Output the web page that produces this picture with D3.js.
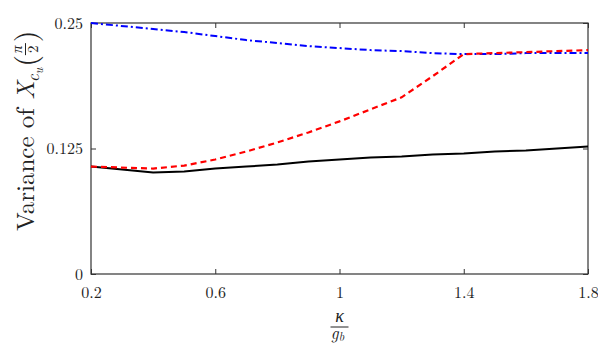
<!DOCTYPE html>
<html>
<head>
  <script src="https://d3js.org/d3.v7.min.js"></script>
  <style>
    body { margin: 0; background: #fff; }
  </style>
</head>
<body>
  <svg id="chart" width="598" height="344"></svg>
  <script>
    // data
    const kappa = [0.2, 0.4, 0.5, 0.6, 0.7, 0.8, 0.9, 1.0, 1.1, 1.2, 1.3, 1.4, 1.5, 1.6, 1.7, 1.8];
    const solidBlack = [0.107, 0.101, 0.102, 0.105, 0.107, 0.109, 0.112, 0.114, 0.116, 0.117, 0.119, 0.120, 0.122, 0.123, 0.125, 0.127];
    const dashedRed = [0.107, 0.105, 0.108, 0.114, 0.122, 0.131, 0.141, 0.152, 0.164, 0.176, 0.197, 0.219, 0.220, 0.221, 0.222, 0.223];
    const dashDotBlue = [0.250, 0.244, 0.241, 0.237, 0.233, 0.230, 0.227, 0.225, 0.223, 0.222, 0.220, 0.219, 0.219, 0.220, 0.220, 0.220];
    const xTicks = [0.2, 0.6, 1, 1.4, 1.8];
    const yTicks = [0, 0.125, 0.25];

    const FONT = '"Latin Modern Roman", "CMU Serif", "Liberation Serif", serif';
    const INK = "#222";

    const svg = d3.select("#chart");
    const pLeft = 91, pRight = 588, pTop = 23, pBottom = 274;

    const x = d3.scaleLinear().domain([0.2, 1.8]).range([pLeft, pRight]);
    const y = d3.scaleLinear().domain([0, 0.25]).range([pBottom, pTop]);

    // frame
    svg.append("rect")
      .attr("x", pLeft).attr("y", pTop)
      .attr("width", pRight - pLeft).attr("height", pBottom - pTop)
      .attr("fill", "none").attr("stroke", "#333").attr("stroke-width", 1.2);

    const styleAxis = g => {
      g.select(".domain").remove();
      g.selectAll("line").attr("stroke", "#333");
      g.selectAll("text").attr("font-size", 16).style("font-family", FONT).attr("fill", INK);
    };

    // ticks point inward on all four sides
    const tickLen = 5;
    svg.append("g").attr("transform", `translate(0,${pBottom})`)
      .call(d3.axisBottom(x).tickValues(xTicks).tickSize(-tickLen).tickPadding(13)
        .tickFormat(d => d === 1 ? "1" : d3.format(".1f")(d)))
      .call(styleAxis);
    svg.append("g").attr("transform", `translate(0,${pTop})`)
      .call(d3.axisTop(x).tickValues(xTicks).tickSize(-tickLen).tickFormat(""))
      .call(styleAxis);
    svg.append("g").attr("transform", `translate(${pLeft},0)`)
      .call(d3.axisLeft(y).tickValues(yTicks).tickSize(-tickLen).tickPadding(8)
        .tickFormat(d => String(d)))
      .call(styleAxis);
    svg.append("g").attr("transform", `translate(${pRight},0)`)
      .call(d3.axisRight(y).tickValues(yTicks).tickSize(-tickLen).tickFormat(""))
      .call(styleAxis);

    // lines
    const line = vals => d3.line().x((d, i) => x(kappa[i])).y(d => y(d))(vals);
    svg.append("path").attr("d", line(solidBlack))
      .attr("fill", "none").attr("stroke", "#000").attr("stroke-width", 2);
    svg.append("path").attr("d", line(dashDotBlue))
      .attr("fill", "none").attr("stroke", "#0000ff").attr("stroke-width", 2)
      .attr("stroke-dasharray", "7,3,2,3");
    svg.append("path").attr("d", line(dashedRed))
      .attr("fill", "none").attr("stroke", "#ff0000").attr("stroke-width", 2.2)
      .attr("stroke-dasharray", "6,4");

    // y label, built in a rotated group: Variance of X_{c_u}(pi/2)
    const yg = svg.append("g").attr("transform", "translate(34,231) rotate(-90)")
      .style("font-family", FONT).attr("fill", INK);
    const main = yg.append("text").attr("x", 0).attr("y", 0).attr("font-size", 25);
    main.append("tspan").text("Variance of ");
    main.append("tspan").attr("font-style", "italic").text("X");
    let cur = main.node().getComputedTextLength();
    const sub = yg.append("text").attr("x", cur - 1).attr("y", 5)
      .attr("font-size", 17).attr("font-style", "italic").text("c");
    cur += sub.node().getComputedTextLength() - 1;
    const sub2 = yg.append("text").attr("x", cur).attr("y", 9)
      .attr("font-size", 12).attr("font-style", "italic").text("u");
    cur += sub2.node().getComputedTextLength() + 1;
    const lp = yg.append("text").attr("x", cur).attr("y", 2).attr("font-size", 30).text("(");
    cur += lp.node().getComputedTextLength();
    const fc = cur + 6;
    yg.append("text").attr("x", fc).attr("y", -12).attr("font-size", 15)
      .attr("font-style", "italic").attr("text-anchor", "middle").text("π");
    yg.append("line").attr("x1", fc - 6).attr("x2", fc + 6).attr("y1", -8.5).attr("y2", -8.5)
      .attr("stroke", INK).attr("stroke-width", 1);
    yg.append("text").attr("x", fc).attr("y", 4).attr("font-size", 15)
      .attr("text-anchor", "middle").text("2");
    yg.append("text").attr("x", fc + 7).attr("y", 2).attr("font-size", 30).text(")");

    // x label: kappa over g_b
    const cx = x(1);
    const xg = svg.append("g").style("font-family", FONT).attr("fill", INK);
    xg.append("text").attr("x", cx).attr("y", 322).attr("text-anchor", "middle")
      .attr("font-size", 18).attr("font-style", "italic").text("κ");
    xg.append("line").attr("x1", cx - 9).attr("x2", cx + 9)
      .attr("y1", 327).attr("y2", 327).attr("stroke", INK).attr("stroke-width", 1);
    const gb = xg.append("text").attr("x", cx - 2).attr("y", 339).attr("text-anchor", "middle")
      .attr("font-size", 17).attr("font-style", "italic");
    gb.append("tspan").text("g");
    gb.append("tspan").attr("font-size", 12).attr("dy", 2).text("b");
  </script>
</body>
</html>
